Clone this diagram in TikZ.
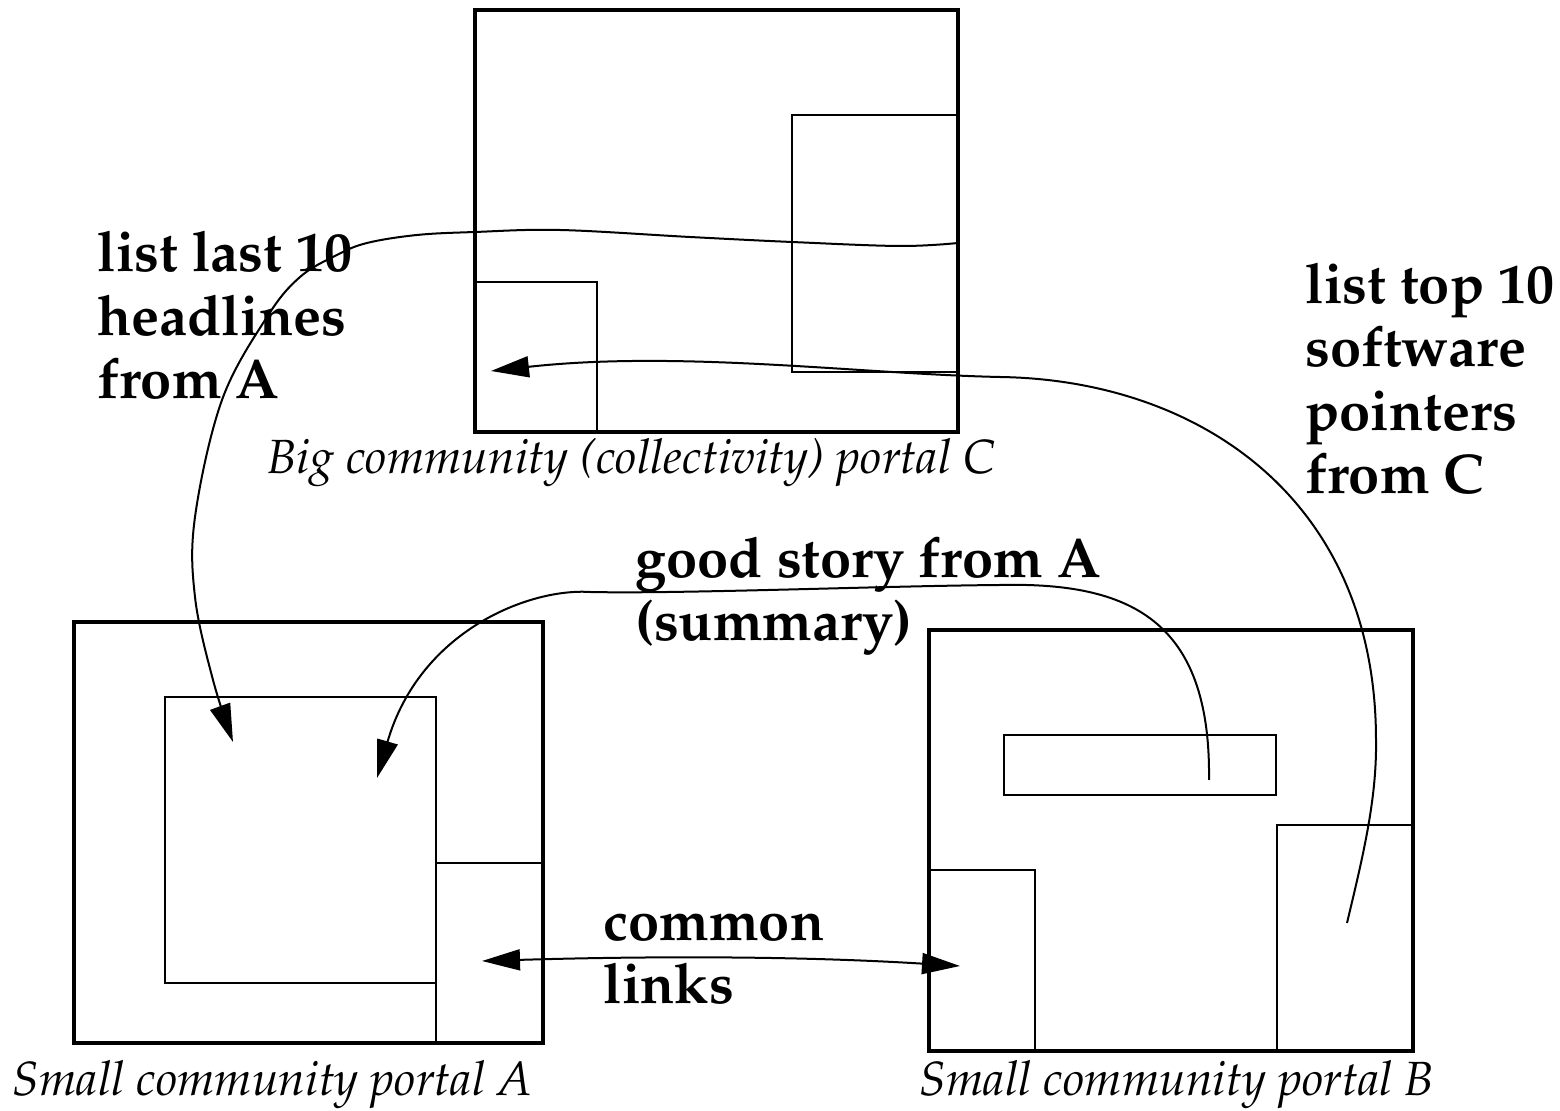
\documentclass[tikz,border=0pt]{standalone}
\usepackage[T1]{fontenc}
\renewcommand{\rmdefault}{ppl}
\usetikzlibrary{arrows.meta}

\begin{document}
\begin{tikzpicture}[x=0.5pt,y=-0.5pt,>={Triangle[length=19pt,width=10.5pt]}]
  \tikzstyle{portal} = [draw, line width=2.4pt, rectangle, inner sep=0pt, outer sep=0pt]
  \tikzstyle{panel} = [draw, line width=1pt, rectangle, inner sep=0pt, outer sep=0pt]
  \tikzstyle{flow} = [black, line width=1pt]
  \tikzstyle{flowLabel} = [font={\fontsize{28}{31.75}\selectfont\bfseries}, align=left, anchor=base west, inner sep=0pt]
  \tikzstyle{portalName} = [font={\fontsize{24}{28}\selectfont\itshape}, anchor=base, inner sep=0pt]

  \useasboundingbox (0,0) rectangle (1560,1111);

  % portals
  \node[panel, minimum width=83pt, minimum height=128.5pt] (C2) at (875,243.5) {};
  \node[portal, minimum width=241.5pt, minimum height=211pt] (C) at (716.5,221) {};
  \node[panel, anchor=south west, minimum width=61pt, minimum height=75pt] (C1) at (C.south west) {};

  \node[portal, minimum width=234.5pt, minimum height=210.5pt] (A) at (308.5,832.5) {};
  \node[panel, minimum width=135.5pt, minimum height=143pt] (A1) at (300.5,840) {};
  \node[panel, anchor=south east, minimum width=53.5pt, minimum height=90pt] (A2) at (A.south east) {};

  \node[portal, minimum width=242pt, minimum height=210.5pt] (B) at (1171,840.5) {};
  \node[panel, minimum width=136pt, minimum height=30pt] (B1) at (1140,765) {};
  \node[panel, anchor=south west, minimum width=53pt, minimum height=90.5pt] (B2) at (B.south west) {};
  \node[panel, anchor=south east, minimum width=68pt, minimum height=113pt] (B3) at (B.south east) {};

  \node[portalName] (Cname) at (631.5,474) {Big community (collectivity) portal C};
  \node[portalName] (Aname) at (272.5,1096) {Small community portal A};
  \node[portalName] (Bname) at (1177,1096) {Small community portal B};

  % flow ends
  \coordinate (hlFrom) at (958,243);
  \coordinate (hlTo) at (233,742);
  \coordinate (gsFrom) at (1209,780);
  \coordinate (gsTo) at (377,778);
  \coordinate (swFrom) at (1347,923);
  \coordinate (swTo) at (491,371);
  \coordinate (clA) at (482,961);
  \coordinate (clB) at (960,966);

  \draw[flow,->] plot[smooth, tension=0.6] coordinates {(hlFrom) (900,246) (792,242) (690,237) (560,230) (475,232) (417,235) (367,243) (337,255) (300,277) (267,317) (222,400) (195,517) (195,597) (213,680) (hlTo)};
  \draw[flow,->] (gsFrom) .. controls (1211,620) and (1130,582) .. (1000,585)
                 .. controls (880,586) and (680,594) .. (590,592)
                 .. controls (530,588) and (420,630) .. (gsTo);
  \draw[flow,->] (swFrom) .. controls (1362,860) and (1377,800) .. (1376,740)
                 .. controls (1376,500) and (1200,380) .. (1000,377)
                 .. controls (860,374) and (680,350) .. (swTo);
  \draw[flow,<->] (clA) .. controls (650,956) and (800,956) .. (clB);

  \node[flowLabel] (hlLabel) at (97,399) {list last 10\\headlines\\from A};
  \node[flowLabel] (swLabel) at (1305,494) {list top 10\\software\\pointers\\from C};
  \node[flowLabel] (gsLabel) at (635,641) {good story from A\\(summary)};
  \node[flowLabel] (clLabel) at (603,1004) {common\\links};

\end{tikzpicture}
\end{document}
